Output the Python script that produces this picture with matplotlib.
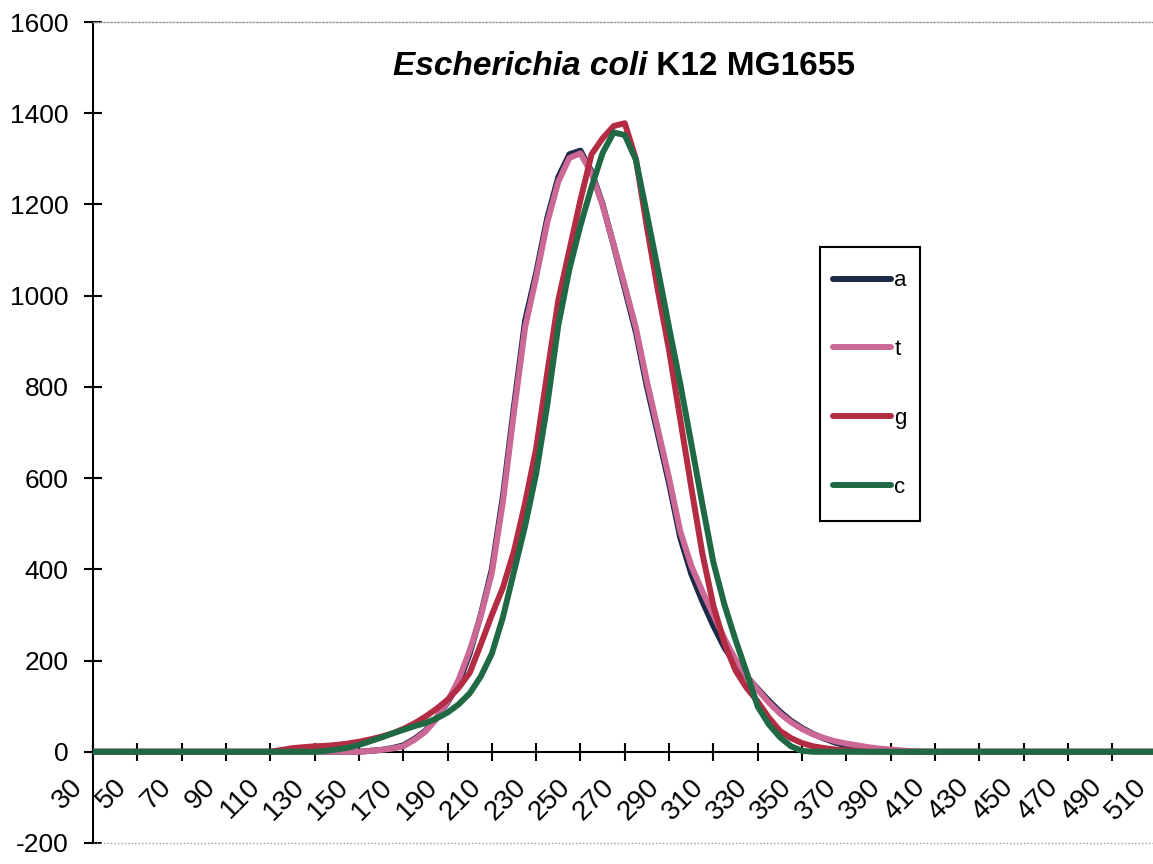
import matplotlib
matplotlib.use('Agg')
import matplotlib.pyplot as plt
import matplotlib.transforms as mtransforms

plt.rcParams['font.family'] = ['Liberation Sans', 'DejaVu Sans']

# categories (length classes)
x = list(range(30, 120, 10)) + list(range(120, 405, 5)) + list(range(410, 520, 10))

left_zero = [0, 0, 0, 0, 0, 0, 0, 0, 0]                 # 30..110
right_zero = [0, 0, 0, 0, 0, 0, 0, 0, 0, 0, 0]          # 410..510

# 120..400 step 5
a_mid = [0, 0, 0, 0, 0, 0, 0,
         2, 4, 8, 14, 28, 46, 74, 108, 150, 215,
         300, 400, 560, 758, 945, 1050, 1170, 1260, 1310, 1318,
         1272, 1200, 1110, 1015, 920, 800, 695, 588, 470, 390,
         330, 276, 228, 192, 165, 138, 112, 88, 68, 52,
         39, 29, 20, 14, 9, 6, 4, 2, 1, 0]
t_mid = [0, 0, 0, 0, 0, 0, 0,
         2, 4, 7, 12, 26, 44, 72, 110, 158, 222,
         298, 392, 548, 745, 930, 1040, 1160, 1250, 1302, 1312,
         1268, 1198, 1112, 1022, 930, 812, 706, 600, 484, 408,
         352, 300, 248, 202, 166, 136, 108, 84, 65, 50,
         38, 30, 23, 18, 14, 10, 7, 5, 3, 1]
g_mid = [8, 10, 12, 13, 15, 18, 22,
         27, 33, 40, 50, 62, 77, 94, 114, 140, 173,
         235, 300, 360, 440, 545, 665, 830, 990, 1100, 1210,
         1310, 1345, 1372, 1378, 1300, 1150, 1010, 880, 730, 580,
         435, 320, 238, 178, 140, 110, 75, 46, 30, 19,
         12, 8, 5, 3, 1, 0, 0, 0, 0, 0]
c_mid = [0, 0, 0, 2, 5, 9, 15,
         23, 31, 40, 48, 56, 63, 73, 86, 104, 128,
         165, 215, 295, 395, 495, 610, 760, 935, 1058, 1154,
         1238, 1313, 1358, 1352, 1298, 1178, 1056, 930, 808, 676,
         543, 415, 322, 245, 174, 99, 60, 32, 12, 2,
         0, 0, 0, 0, 0, 0, 0, 0, 0, 0]

series = {
    'a': left_zero + a_mid + right_zero,
    't': left_zero + t_mid + right_zero,
    'g': left_zero + g_mid + right_zero,
    'c': left_zero + c_mid + right_zero,
}
colors = {'a': '#1c2a4a', 't': '#cc6896', 'g': '#b42c44', 'c': '#1f6a45'}

xticks = list(range(30, 520, 20))
yticks = list(range(-200, 1800, 200))

fig = plt.figure(figsize=(11.53, 8.64), dpi=100)
ax = fig.add_axes([93 / 1153, 1 - 843 / 864, 1068 / 1153, 821 / 864])

lines = []
for name in ['a', 't', 'g', 'c']:
    ln, = ax.plot(x, series[name], color=colors[name], lw=4.3, label=name,
                  solid_capstyle='round', solid_joinstyle='round', zorder=3)
    lines.append(ln)

ax.set_xlim(30, 512)
ax.set_ylim(-200, 1600)

ax.spines['bottom'].set_position(('data', 0))
ax.spines['bottom'].set_linewidth(1.5)
ax.spines['left'].set_linewidth(1.5)
ax.spines['right'].set_visible(False)
ax.spines['top'].set_linestyle((0, (1, 1.5)))
ax.spines['top'].set_color('#999999')
ax.spines['top'].set_linewidth(1)
ax.axhline(-200, color='#999999', lw=1, ls=(0, (1, 1.5)), clip_on=False)

ax.set_yticks(yticks)
ax.set_yticklabels([str(v) for v in yticks], fontsize=19)
ax.set_xticks(xticks)
ax.set_xticklabels([str(v) for v in xticks], fontsize=20, rotation=45,
                   ha='right', va='center', rotation_mode='anchor')
ax.tick_params(axis='both', direction='inout', length=13, width=1.5, colors='black')
ax.tick_params(axis='y', pad=11)
ax.tick_params(axis='x', pad=16)

# rotated labels sit a little left of their tick, as in the original
shift = mtransforms.ScaledTranslation(-14 / 100, 0, fig.dpi_scale_trans)
for lab in ax.get_xticklabels():
    lab.set_transform(lab.get_transform() + shift)

ax.text(280, 1503, 'Escherichia coli', fontsize=24, fontweight='bold',
        fontstyle='italic', ha='right', va='center')
ax.text(280, 1503, ' K12 MG1655', fontsize=24, fontweight='bold',
        ha='left', va='center')

# legend box
lax = fig.add_axes([820 / 1153, 1 - 521 / 864, 100 / 1153, 274 / 864])
lax.set_xticks([])
lax.set_yticks([])
for sp in lax.spines.values():
    sp.set_linewidth(1.5)
    sp.set_color('black')
lax.legend(lines, ['a', 't', 'g', 'c'], loc='center', fontsize=16, frameon=False,
           handlelength=2.6, handletextpad=0.15, labelspacing=2.15,
           borderpad=0, borderaxespad=0)

fig.savefig('out.png', dpi=100)
